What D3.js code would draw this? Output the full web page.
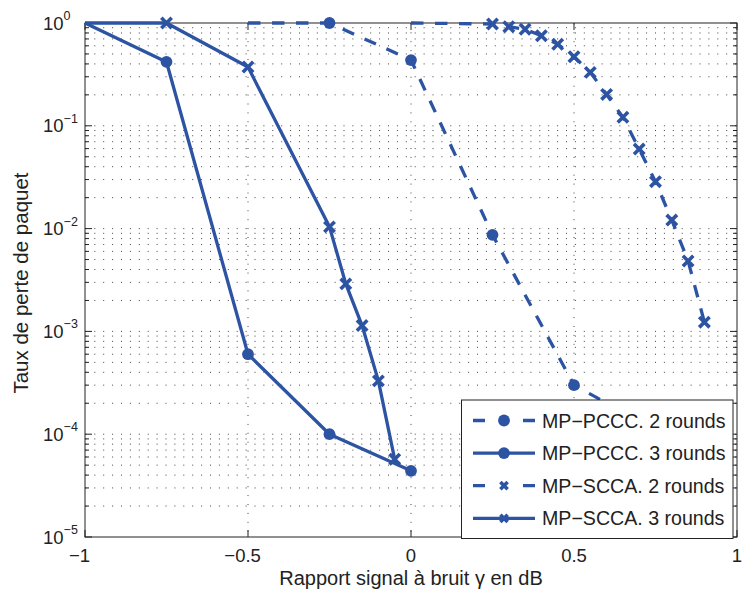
<!DOCTYPE html>
<html><head><meta charset="utf-8">
<script src="https://cdn.jsdelivr.net/npm/d3@7"></script>
<style>body{margin:0;background:#fff}svg{display:block;font-family:Arial,"Liberation Sans",Helvetica,sans-serif}</style>
</head><body>
<svg id="c" width="743" height="589"></svg>
<script>
// ---- data ----
const seriesNames = ["MP\u2212PCCC. 2 rounds","MP\u2212PCCC. 3 rounds","MP\u2212SCCA. 2 rounds","MP\u2212SCCA. 3 rounds"];
const xPCCC2 = [-0.5, -0.25, 0, 0.25, 0.5, 0.75];
const yPCCC2 = [1, 1, 0.436, 0.0087, 3.0e-4, 1.1e-4];
const xPCCC3 = [-1, -0.75, -0.5, -0.25, 0];
const yPCCC3 = [1, 0.418, 6.0e-4, 1.0e-4, 4.4e-5];
const xSCCA2 = [0, 0.25, 0.3, 0.35, 0.4, 0.45, 0.5, 0.55, 0.6, 0.65, 0.7, 0.75, 0.8, 0.85, 0.9];
const ySCCA2 = [1, 0.978, 0.92, 0.87, 0.752, 0.621, 0.47, 0.331, 0.202, 0.121, 0.0594, 0.0286, 0.0121, 0.00484, 0.00123];
const xSCCA3 = [-1, -0.75, -0.5, -0.25, -0.2, -0.15, -0.1, -0.05];
const ySCCA3 = [1, 1, 0.373, 0.0104, 0.0029, 0.00114, 3.3e-4, 5.7e-5];
const xTicks = [-1, -0.5, 0, 0.5, 1];
const yExps = [0, -1, -2, -3, -4, -5];
const xTitle = "Rapport signal \u00e0 bruit \u03b3 en dB";
const yTitle = "Taux de perte de paquet";

const color = "#2D53A3";
const L = 85, R = 737, T = 23, B = 537;
const svg = d3.select("#c");
const x = d3.scaleLinear().domain([-1, 1]).range([L, R]);
const y = d3.scaleLog().domain([1e-5, 1]).range([B, T]);

// grid
const minorY = [];
for (let e = -5; e < 0; e++) for (let m = 1; m < 10; m++) minorY.push(m * Math.pow(10, e));
const g = svg.append("g");
g.selectAll("line.hg").data(minorY.filter(v => v > 1e-5 && v < 1)).enter().append("line")
  .attr("x1", L).attr("x2", R).attr("y1", d => y(d)).attr("y2", d => y(d))
  .attr("stroke", "#444").attr("stroke-width", 1).attr("stroke-dasharray", "1,7.9").attr("stroke-dashoffset", 8.5);
g.selectAll("line.vg").data(xTicks.filter(v => v > -1 && v < 1)).enter().append("line")
  .attr("x1", d => x(d)).attr("x2", d => x(d)).attr("y1", T).attr("y2", B)
  .attr("stroke", "#444").attr("stroke-width", 1).attr("stroke-dasharray", "1,7.9").attr("stroke-dashoffset", 8.5);

// axes box and ticks
const ax = svg.append("g").attr("stroke", "#222").attr("stroke-width", 1).attr("fill", "none");
ax.append("rect").attr("x", L).attr("y", T).attr("width", R - L).attr("height", B - T);
xTicks.forEach(v => {
  ax.append("line").attr("x1", x(v)).attr("x2", x(v)).attr("y1", B).attr("y2", B - 7);
  ax.append("line").attr("x1", x(v)).attr("x2", x(v)).attr("y1", T).attr("y2", T + 7);
});
minorY.concat([1]).forEach(v => {
  const major = Math.abs(Math.log10(v) - Math.round(Math.log10(v))) < 1e-9;
  const len = major ? 7 : 4;
  ax.append("line").attr("x1", L).attr("x2", L + len).attr("y1", y(v)).attr("y2", y(v));
  ax.append("line").attr("x1", R).attr("x2", R - len).attr("y1", y(v)).attr("y2", y(v));
});

// tick labels
const tl = svg.append("g").attr("fill", "#222").attr("font-size", 18.5);
xTicks.forEach(v => {
  const s = String(Math.abs(v));
  const t = tl.append("text").attr("x", x(v)).attr("y", 562).attr("text-anchor", "middle").text(s);
  if (v < 0) {
    const w = t.node().getComputedTextLength();
    tl.append("text").attr("x", x(v) - w / 2).attr("y", 562).attr("text-anchor", "end").text("\u2212");
  }
});
yExps.forEach(e => {
  const t = tl.append("text").attr("x", 43).attr("y", y(Math.pow(10, e)) + 6.5).attr("font-size", 18.5);
  t.append("tspan").text("10");
  t.append("tspan").attr("dy", -9.5).attr("font-size", 12.5).text(e < 0 ? "\u2212" + Math.abs(e) : String(e));
});

// titles
svg.append("text").attr("x", x(0)).attr("y", 585).attr("text-anchor", "middle")
  .attr("font-size", 20).attr("fill", "#222").text(xTitle);
svg.append("text").attr("transform", "translate(28," + ((T + B) / 2 + 3) + ") rotate(-90)")
  .attr("text-anchor", "middle").attr("font-size", 20.5).attr("fill", "#222").text(yTitle);

// series
const series = [
  {xs: xPCCC2, ys: yPCCC2, dash: true, mk: "o"},
  {xs: xPCCC3, ys: yPCCC3, dash: false, mk: "o"},
  {xs: xSCCA2, ys: ySCCA2, dash: true, mk: "x"},
  {xs: xSCCA3, ys: ySCCA3, dash: false, mk: "x"}
];
const line = d3.line().x(d => x(d[0])).y(d => y(d[1]));
function marker(sel, type, cx, cy, s) {
  if (type === "o") {
    sel.append("circle").attr("cx", cx).attr("cy", cy).attr("r", 5.9 * s).attr("fill", color);
  } else {
    const a = 5.2 * s;
    sel.append("path").attr("d", `M${cx - a},${cy - a}L${cx + a},${cy + a}M${cx - a},${cy + a}L${cx + a},${cy - a}`)
      .attr("stroke", color).attr("stroke-width", 3.6).attr("fill", "none");
  }
}
const dg = svg.append("g");
series.forEach(s => {
  const pts = s.xs.map((v, i) => [v, s.ys[i]]);
  dg.append("path").datum(pts).attr("d", line).attr("fill", "none").attr("stroke", color)
    .attr("stroke-width", 3.3).attr("stroke-linejoin", "round")
    .attr("stroke-dasharray", s.dash ? "12.5,11.5" : null);
  pts.slice(1).forEach(p => marker(dg, s.mk, x(p[0]), y(p[1]), 1));
});

// legend
const lg = svg.append("g");
lg.append("rect").attr("x", 461.5).attr("y", 400).attr("width", 271.5).attr("height", 138.5)
  .attr("fill", "#fff").attr("stroke", "#222").attr("stroke-width", 1);
series.forEach((s, i) => {
  const yy = 420.5 + i * 32.6;
  lg.append("line").attr("x1", 473).attr("x2", 535).attr("y1", yy).attr("y2", yy)
    .attr("stroke", color).attr("stroke-width", 3.3).attr("stroke-dasharray", s.dash ? "12,38" : null);
  marker(lg, s.mk, 504, yy, s.mk === "x" ? 0.7 : 1);
  lg.append("text").attr("x", 542).attr("y", yy + 7).attr("font-size", 19.6).attr("fill", "#222").text(seriesNames[i]);
});
</script>
</body></html>
